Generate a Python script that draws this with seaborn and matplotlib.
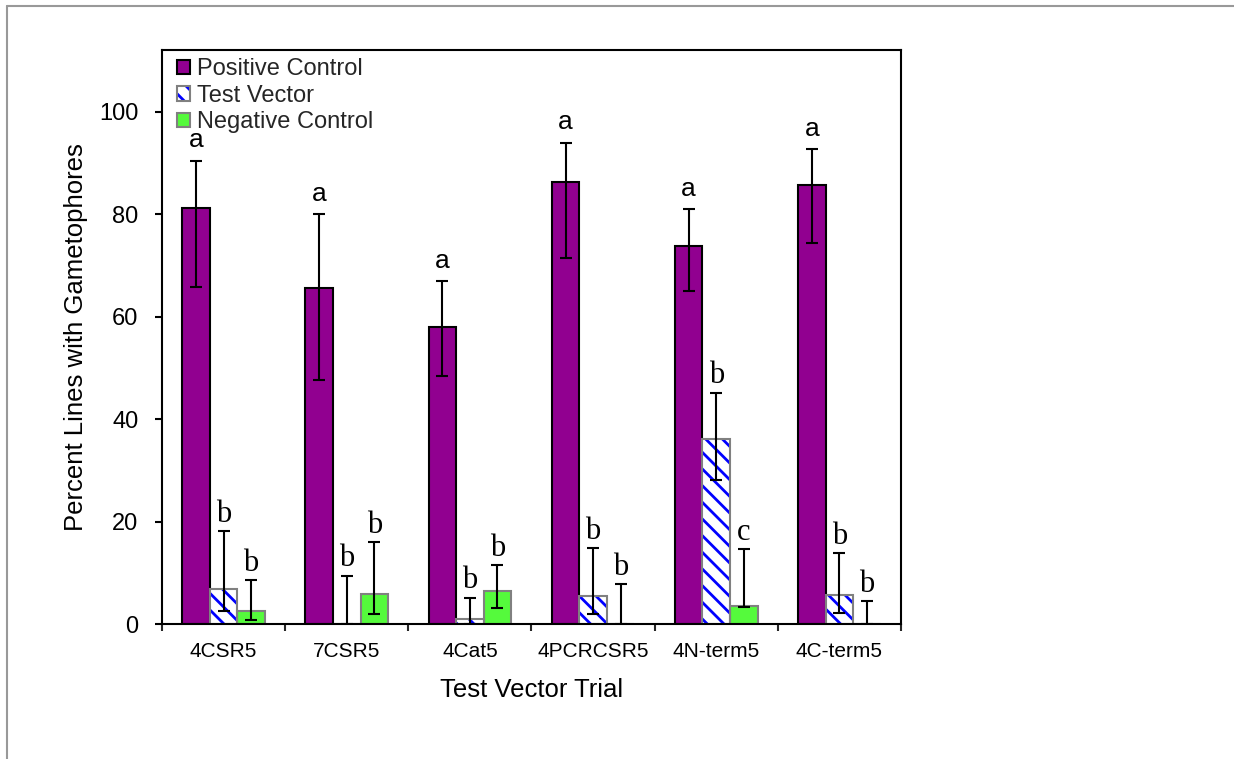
import numpy as np
import pandas as pd
import matplotlib
matplotlib.use("Agg")
import matplotlib.pyplot as plt
import seaborn as sns
from matplotlib.patches import Patch, Rectangle
from matplotlib.lines import Line2D

# ---- data -------------------------------------------------------------
trials = ["4CSR5", "7CSR5", "4Cat5", "4PCRCSR5", "4N-term5", "4C-term5"]
groups = ["Positive Control", "Test Vector", "Negative Control"]

pos_mean = [81.1, 65.6, 58.0, 86.2, 73.7, 85.7]
pos_low = [65.8, 47.6, 48.4, 71.4, 65.0, 74.3]
pos_high = [90.4, 80.0, 66.9, 93.9, 80.9, 92.6]

test_mean = [6.9, 0.0, 1.0, 5.5, 36.2, 5.8]
test_low = [2.5, 0.0, 0.0, 2.0, 28.1, 2.3]
test_high = [18.2, 9.5, 5.2, 14.9, 45.2, 13.9]

neg_mean = [2.6, 6.0, 6.5, 0.0, 3.6, 0.0]
neg_low = [0.8, 2.1, 3.2, 0.0, 3.4, 0.0]
neg_high = [8.6, 16.0, 11.5, 7.8, 14.7, 4.5]

pos_letters = ["a", "a", "a", "a", "a", "a"]
test_letters = ["b", "b", "b", "b", "b", "b"]
neg_letters = ["b", "b", "b", "b", "c", "b"]

y_ticks = [0, 20, 40, 60, 80, 100]

# ---- styling ----------------------------------------------------------
PURPLE = "#910090"
GREEN = "#55FA3C"
BLUE = "#0000FF"
GREY = "#808080"

sns.set_theme(style="white")
plt.rcParams["font.family"] = ["Liberation Sans", "DejaVu Sans"]
plt.rcParams["hatch.linewidth"] = 2.0

df = pd.DataFrame({
    "trial": trials * 3,
    "group": np.repeat(groups, len(trials)),
    "pct": pos_mean + test_mean + neg_mean,
})

fig = plt.figure(figsize=(12.34, 7.59), dpi=100)
ax = fig.add_axes([162 / 1234, 1 - 624.3 / 759, 739 / 1234, 574.3 / 759])

sns.barplot(data=df, x="trial", y="pct", hue="group", order=trials,
            hue_order=groups, palette=[PURPLE, "white", GREEN],
            saturation=1, width=0.67, gap=0, errorbar=None,
            legend=False, ax=ax, zorder=2)

pos_bars, test_bars, neg_bars = ax.containers

for p in pos_bars:
    p.set_edgecolor("black")
    p.set_linewidth(1.5)

for p in neg_bars:
    p.set_edgecolor(GREY)
    p.set_linewidth(1.5)

# hatched test-vector bars: blue stripes, grey outline drawn on top
for p in test_bars:
    p.set_facecolor("white")
    p.set_edgecolor(BLUE)
    p.set_hatch("\\\\")
    p.set_linewidth(0)
    ax.add_patch(Rectangle((p.get_x(), p.get_y()), p.get_width(), p.get_height(),
                           fill=False, edgecolor=GREY, linewidth=1.5, zorder=2.5))

series = [
    (pos_bars, pos_mean, pos_low, pos_high, pos_letters, "Liberation Sans", 19, 2.6),
    (test_bars, test_mean, test_low, test_high, test_letters, "Liberation Serif", 22, 1.8),
    (neg_bars, neg_mean, neg_low, neg_high, neg_letters, "Liberation Serif", 22, 1.8),
]
for bars, mean, low, high, letters, fam, fs, off in series:
    xs = np.array([p.get_x() + p.get_width() / 2 for p in bars])
    m = np.array(mean)
    lo = np.array(low)
    hi = np.array(high)
    ax.errorbar(xs, m, yerr=[m - lo, hi - m], fmt="none", ecolor="black",
                elinewidth=1.5, capsize=4.3, capthick=1.5, zorder=3)
    for x, h, t in zip(xs, hi, letters):
        ax.text(x, h + off, t, ha="center", va="baseline", fontsize=fs,
                family=fam, color="black")

# ---- axes -------------------------------------------------------------
ax.set_ylim(0, 112)
ax.set_xlim(-0.5, len(trials) - 0.5)
ax.set_yticks(y_ticks)
ax.set_yticklabels([str(v) for v in y_ticks])
ax.set_xticks(range(len(trials)))
ax.set_xticklabels(trials)
ax.set_xticks(np.arange(-0.5, len(trials)), minor=True)

ax.tick_params(axis="y", which="major", direction="out", length=5, width=1.5,
               left=True, labelsize=17, pad=12, colors="black")
ax.tick_params(axis="x", which="major", length=0, labelsize=15, pad=13,
               colors="black")
ax.tick_params(axis="x", which="minor", direction="out", length=5, width=1.5,
               bottom=True)

for s in ax.spines.values():
    s.set_visible(True)
    s.set_color("black")
    s.set_linewidth(1.5)

ax.set_xlabel("Test Vector Trial", fontsize=18.5, labelpad=12, color="black")
ax.set_ylabel("Percent Lines with Gametophores", fontsize=18.5, labelpad=8,
              color="black")

handles = [
    Patch(facecolor=PURPLE, edgecolor="black", linewidth=1.5),
    (Patch(facecolor="white", edgecolor=BLUE, hatch="\\\\", linewidth=0),
     Patch(fill=False, edgecolor=GREY, linewidth=1.5)),
    Patch(facecolor=GREEN, edgecolor=GREY, linewidth=1.5),
]
ax.legend(handles, groups, loc="upper left", bbox_to_anchor=(0.02, 0.986),
          frameon=False, fontsize=17, handlelength=0.55, handleheight=0.55,
          handletextpad=0.3, labelspacing=0.2, borderpad=0, borderaxespad=0)

# thin grey frame along the top and left of the figure
fig.add_artist(Line2D([6.7 / 1234, 1], [1 - 5.5 / 759, 1 - 5.5 / 759],
                      transform=fig.transFigure, color="#999999", lw=1.5))
fig.add_artist(Line2D([6.7 / 1234, 6.7 / 1234], [0, 1 - 5.5 / 759],
                      transform=fig.transFigure, color="#999999", lw=1.5))

fig.savefig("out.png", dpi=100)
